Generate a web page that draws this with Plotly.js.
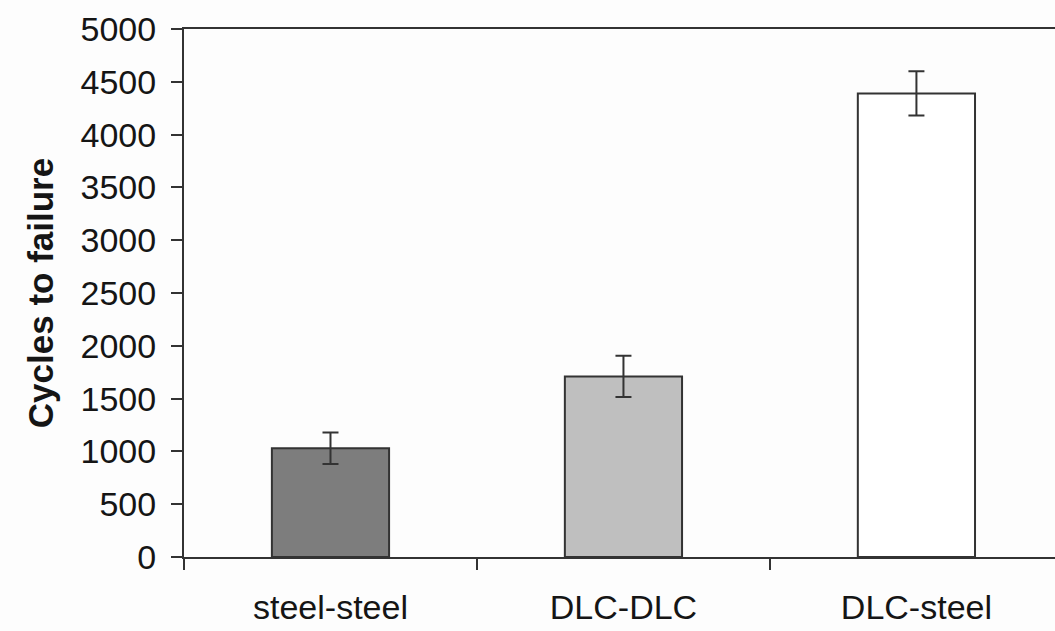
<!DOCTYPE html>
<html>
<head>
<meta charset="utf-8">
<script src="https://cdn.plot.ly/plotly-3.0.1.min.js"></script>
<style>html,body{margin:0;padding:0;background:#fdfdfd;}</style>
</head>
<body>
<div id="chart" style="width:1055px;height:631px;"></div>
<script>
const categories = ["steel-steel", "DLC-DLC", "DLC-steel"];
const cycles = [1030, 1710, 4390];
const errors = [150, 195, 210];
const barColors = ["#7d7d7d", "#bfbfbf", "#ffffff"];
const yTicks = [0, 500, 1000, 1500, 2000, 2500, 3000, 3500, 4000, 4500, 5000];

const font = {family: "Liberation Sans, Arial, sans-serif", size: 34, color: "#151515"};

Plotly.newPlot("chart", [{
  type: "bar",
  x: categories,
  y: cycles,
  marker: {color: barColors, line: {color: "#333333", width: 2}},
  error_y: {type: "data", array: errors, visible: true, color: "#333333", thickness: 2, width: 8},
  width: 0.4
}], {
  width: 1055, height: 631,
  margin: {l: 184, r: 0, t: 29, b: 74, pad: 0},
  paper_bgcolor: "#fdfdfd",
  plot_bgcolor: "#fdfdfd",
  showlegend: false,
  font: font,
  xaxis: {
    type: "category",
    range: [-0.5, 2.473],
    showline: true, linecolor: "#333333", linewidth: 2, mirror: true,
    ticks: "outside", tickson: "boundaries", ticklen: 11, tickwidth: 2, tickcolor: "#333333",
    showgrid: false, zeroline: false,
    ticklabelstandoff: 19,
    tickfont: font
  },
  yaxis: {
    range: [0, 5000],
    tickvals: yTicks,
    showline: true, linecolor: "#333333", linewidth: 2,
    ticks: "outside", ticklen: 11, tickwidth: 2, tickcolor: "#333333",
    showgrid: false, zeroline: false,
    ticklabelstandoff: 8,
    tickfont: font,
    title: {text: "<b>Cycles to failure</b>", font: {family: "Liberation Sans, Arial, sans-serif", size: 35, color: "#151515"}, standoff: 16}
  }
}, {displayModeBar: false, staticPlot: true});
</script>
</body>
</html>
